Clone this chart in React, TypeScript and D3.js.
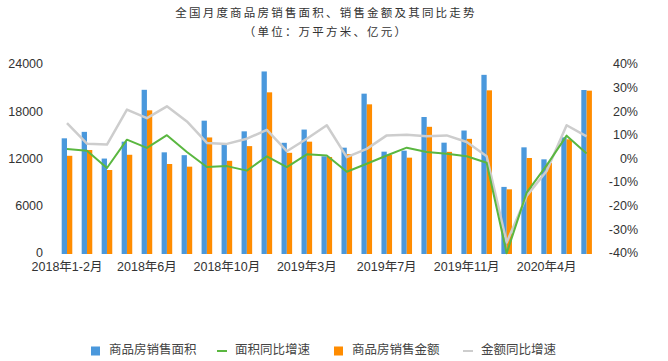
import React from "react";
import * as d3 from "d3";

const categories = [
  "2018年1-2月", "2018年3月", "2018年4月", "2018年5月", "2018年6月", "2018年7月", "2018年8月", "2018年9月", "2018年10月", "2018年11月", "2018年12月",
  "2019年1-2月", "2019年3月", "2019年4月", "2019年5月", "2019年6月", "2019年7月", "2019年8月", "2019年9月", "2019年10月", "2019年11月", "2019年12月",
  "2020年1-2月", "2020年3月", "2020年4月", "2020年5月", "2020年6月",
];
const salesArea = [14690, 15510, 12120, 14265, 20850, 12910, 12550, 16930, 13900, 15577, 23180, 14120, 15800, 12400, 13502, 20360, 12995, 13122, 17397, 14138, 15680, 22750, 8520, 13545, 12021, 14815, 20825];
const salesAmount = [12470, 13205, 10666, 12600, 18243, 11428, 11090, 14800, 11830, 13700, 20529, 12850, 14265, 12320, 12680, 19005, 12571, 12233, 16150, 12970, 14620, 20783, 8212, 12190, 11560, 14561, 20741];
const areaYoY = [4.4, 3.7, -3.6, 8.4, 4.9, 10.3, 3.2, -3.2, -2.8, -4.7, 1.3, -3.2, 2.2, 1.7, -5.2, -1.8, 1.7, 5.0, 3.2, 2.4, 1.4, -1.4, -39.7, -14.0, -2.5, 10.1, 2.5];
const amountYoY = [15.4, 6.7, 6.3, 21.1, 17.5, 22.5, 16.1, 7.0, 6.6, 8.8, 12.5, 3.5, 8.8, 14.5, 1.0, 4.5, 10.2, 10.5, 9.8, 10.2, 7.4, 1.4, -35.1, -15.4, -4.9, 14.5, 9.8];
const leftTicks = [0, 6000, 12000, 18000, 24000];
const rightTicks = [-40, -30, -20, -10, 0, 10, 20, 30, 40];
const titleLines = ["全国月度商品房销售面积、销售金额及其同比走势", "（单位：万平方米、亿元）"];
const seriesNames = ["商品房销售面积", "面积同比增速", "商品房销售金额", "金额同比增速"];

const W = 668, H = 361;
const BLUE = "#4a98dc", ORANGE = "#ff8c00", GREEN = "#5ab740", GRAY = "#cdcdcd";
const FONT = "'Liberation Sans', 'Noto Sans CJK SC', sans-serif";

export default function App() {
  const x = d3.scaleBand<string>().domain(categories).range([57, 596.6]).paddingInner(0).paddingOuter(0);
  const x1 = d3.scaleBand<string>().domain(["area", "amount"]).range([0, x.bandwidth()]).paddingInner(0).paddingOuter(0.885);
  const yL = d3.scaleLinear().domain([0, 24000]).range([254, 65]);
  const yR = d3.scaleLinear().domain([-40, 40]).range([254, 65]);
  const cx = (c: string) => (x(c) as number) + x.bandwidth() / 2;
  const lineGen = d3.line<number>().x((_, i) => cx(categories[i])).y((d) => yR(d));

  const legendItems = [
    { name: seriesNames[0], kind: "rect", color: BLUE, x: 91 },
    { name: seriesNames[1], kind: "line", color: GREEN, x: 217 },
    { name: seriesNames[2], kind: "rect", color: ORANGE, x: 334 },
    { name: seriesNames[3], kind: "line", color: GRAY, x: 463 },
  ];

  return (
    <svg width={W} height={H} style={{ position: "absolute", left: 0, top: 0, background: "#fff" }} fontFamily={FONT}>
      <g fill="#333" fontSize={11.5} textAnchor="middle" letterSpacing={2.2} fontFamily="'Noto Sans CJK SC', sans-serif">
        <text x={326} y={14} dominantBaseline="middle">{titleLines[0]}</text>
        <text x={326} y={33} dominantBaseline="middle">{titleLines[1]}</text>
      </g>
      {categories.map((c, i) => (
        <g key={c}>
          <rect x={(x(c) as number) + (x1("area") as number)} y={yL(salesArea[i])} width={x1.bandwidth()} height={yL(0) - yL(salesArea[i])} fill={BLUE} />
          <rect x={(x(c) as number) + (x1("amount") as number)} y={yL(salesAmount[i])} width={x1.bandwidth()} height={yL(0) - yL(salesAmount[i])} fill={ORANGE} />
        </g>
      ))}
      <path d={lineGen(amountYoY) || ""} fill="none" stroke={GRAY} strokeWidth={2.5} strokeLinejoin="round" />
      <path d={lineGen(areaYoY) || ""} fill="none" stroke={GREEN} strokeWidth={2} strokeLinejoin="round" />
      <g fill="#333" fontSize={12.5}>
        {leftTicks.map((t) => (
          <text key={t} x={43} y={yL(t)} textAnchor="end" dominantBaseline="middle">{t}</text>
        ))}
        {rightTicks.map((t) => (
          <text key={t} x={638} y={yR(t)} textAnchor="end" dominantBaseline="middle">{t + "%"}</text>
        ))}
        {categories.map((c, i) => i % 4 === 0 ? (
          <text key={c} x={cx(c)} y={268} textAnchor="middle" dominantBaseline="middle">{c}</text>
        ) : null)}
      </g>
      <g fontSize={12.5} fill="#444">
        {legendItems.map((it) => (
          <g key={it.name}>
            {it.kind === "rect"
              ? <rect x={it.x} y={346.5} width={9} height={9} fill={it.color} />
              : <line x1={it.x} x2={it.x + 10} y1={351} y2={351} stroke={it.color} strokeWidth={2} />}
            <text x={it.x + (it.kind === "rect" ? 18 : 18)} y={351} dominantBaseline="middle">{it.name}</text>
          </g>
        ))}
      </g>
    </svg>
  );
}
